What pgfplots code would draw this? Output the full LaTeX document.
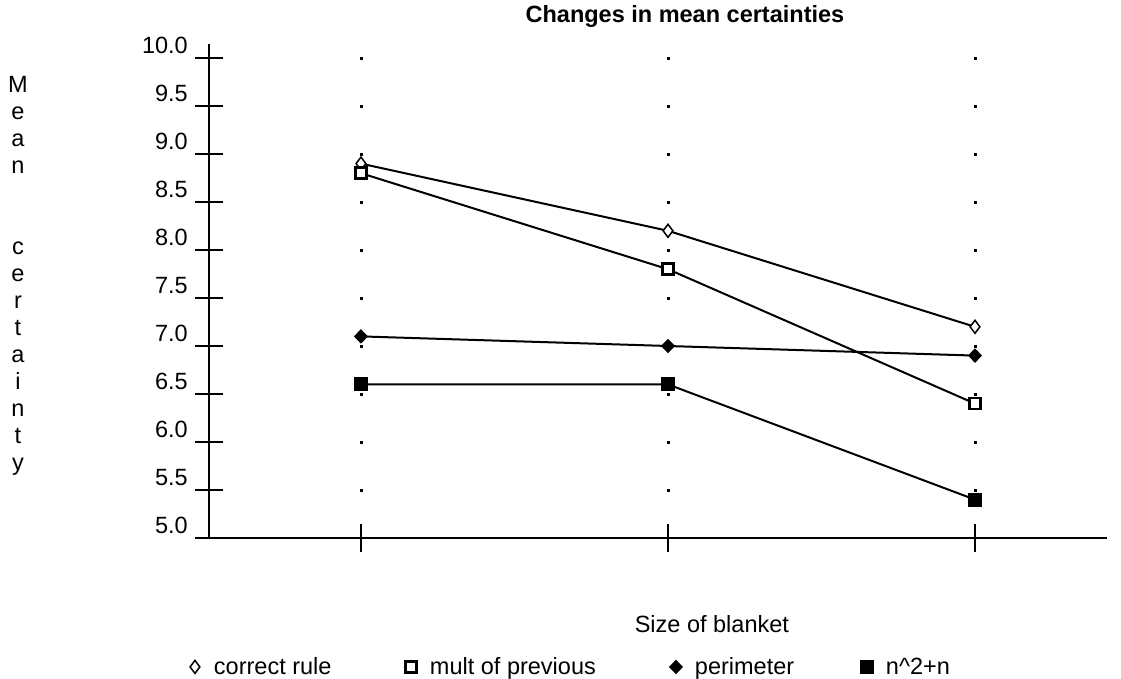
\documentclass[border=0pt]{standalone}
\usepackage{fontspec}
\setmainfont{Liberation Sans}
\usepackage{pgfplots}
\pgfplotsset{compat=1.18}
\newcommand\fs{\fontsize{23.5bp}{27bp}\selectfont}

\begin{document}
\begin{tikzpicture}
\useasboundingbox (0,0) rectangle (1121bp,679bp);
\begin{axis}[
  at={(209bp,141bp)}, anchor=south west,
  scale only axis, width=898bp, height=494bp,
  xmin=0.505, xmax=3.43, ymin=5, ymax=10.146,
  axis lines=left, axis line style={-, line width=2bp},
  tick align=center, major tick length=28bp,
  every tick/.style={black, line width=2bp},
  xtick={1,2,3}, xticklabels={},
  ytick={5,5.5,6,6.5,7,7.5,8,8.5,9,9.5,10},
  /pgf/number format/assume math mode=true,
  yticklabel style={/pgf/number format/.cd, fixed, fixed zerofill, precision=1, /tikz/.cd,
    font=\fs, anchor=base east, inner sep=0pt, xshift=-7bp, yshift=5bp},
  title={Changes in mean certainties},
  title style={font=\fs\bfseries, at={(axis description cs:0.53,1)}, anchor=base, yshift=16bp},
  xlabel={Size of blanket},
  xlabel style={font=\fs, at={(axis description cs:0.56,0)}, anchor=base, yshift=-94bp},
  ylabel={M\\e\\a\\n\\[54bp]c\\e\\r\\t\\a\\i\\n\\t\\y},
  ylabel style={font=\fs, rotate=-90, align=center, anchor=center,
    at={(axis description cs:-0.2127,0.53)}},
  legend columns=4,
  legend cell align=left,
  legend image code/.code={
    \path[draw=none, fill=none] (0bp,-7bp) rectangle (14bp,7bp);
    \draw[#1] plot[only marks] coordinates {(7bp,0bp)};},
  legend style={draw=none, fill=none, font=\fs, inner sep=0pt, outer sep=0pt,
    nodes={inner sep=0pt},
    at={(axis description cs:-0.0234,-0.261)}, anchor=west},
]
% dots at the grid intersections
\addplot[only marks, mark=square*, mark size=1.2bp, black, forget plot] coordinates {
  (1,5.5) (1,6) (1,6.5) (1,7) (1,7.5) (1,8) (1,8.5) (1,9) (1,9.5) (1,10)
  (2,5.5) (2,6) (2,6.5) (2,7) (2,7.5) (2,8) (2,8.5) (2,9) (2,9.5) (2,10)
  (3,5.5) (3,6) (3,6.5) (3,7) (3,7.5) (3,8) (3,8.5) (3,9) (3,9.5) (3,10)
};
\addplot[black, line width=2bp, mark=diamond*, mark size=6.5bp,
  mark options={fill=white, line width=1.5bp}] coordinates {
  (1,8.9) (2,8.2) (3,7.2)
};
\addlegendentry{\hspace{12bp}\makebox[190bp][l]{correct rule}}
\addplot[black, line width=2bp, mark=square*, mark size=5.5bp,
  mark options={fill=white, line width=2.5bp}] coordinates {
  (1,8.8) (2,7.8) (3,6.4)
};
\addlegendentry{\hspace{12bp}\makebox[239bp][l]{mult of previous}}
\addplot[black, line width=2bp, mark=diamond*, mark size=6.5bp,
  mark options={fill=black, line width=1bp, xscale=1.3}] coordinates {
  (1,7.1) (2,7.0) (3,6.9)
};
\addlegendentry{\hspace{12bp}\makebox[165bp][l]{perimeter}}
\addplot[black, line width=2bp, mark=square*, mark size=6.5bp,
  mark options={fill=black, line width=1bp}] coordinates {
  (1,6.6) (2,6.6) (3,5.4)
};
\addlegendentry{\hspace{12bp}n\^{}2+n}
\end{axis}
\end{tikzpicture}
\end{document}
